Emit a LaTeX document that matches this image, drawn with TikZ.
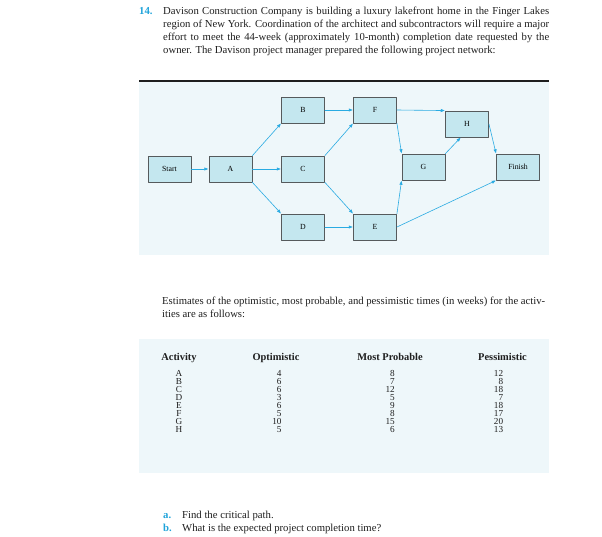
\documentclass[tikz,border=0pt]{standalone}
\usepackage{fontspec}
\setmainfont{Liberation Serif}
\usepackage{xcolor}
\usetikzlibrary{
    arrows.meta,
    positioning,
    calc,
    backgrounds
}
\definecolor{ink}      {HTML}{1E1E1E}
\definecolor{panelbg}  {HTML}{EEF7FA}
\definecolor{boxfill}  {HTML}{C4E7EF}
\definecolor{boxline}  {HTML}{555A5C}
\definecolor{flowblue} {HTML}{2AABE2}
\definecolor{numblue}  {HTML}{1FA3DA}

\begin{document}
\begin{tikzpicture}[
    x=1pt, y=-1pt,
    line cap=round, line join=round,
    >={Triangle[length=4pt, width=3pt]},
    %% --- semantic styles ---
    actbox/.style     = {rectangle, draw=boxline, fill=boxfill, line width=0.9pt,
                         minimum width=43pt, minimum height=26pt, inner sep=0pt,
                         font=\fontsize{7.8}{8}\selectfont},
    flow/.style       = {->, draw=flowblue, line width=0.6pt, shorten >=0.3pt},
    bodytext/.style   = {inner sep=0pt, align=left, text=ink,
                         font=\fontsize{10.7}{12.8}\selectfont},
    itemlabel/.style  = {inner sep=0pt, text=numblue,
                         font=\fontsize{10.7}{12.8}\selectfont\bfseries},
    headcell/.style   = {inner sep=0pt, anchor=base, text=ink,
                         font=\fontsize{10.4}{10}\selectfont\bfseries},
    cell/.style       = {inner sep=0pt, text=ink,
                         font=\fontsize{9.2}{8}\selectfont}
]
\useasboundingbox (0,0) rectangle (602,536);

%% =====================================================
%% Problem statement
%% =====================================================
\node[itemlabel, anchor=base west] (NUM) at (139,14.5) {14.};
\node[bodytext, anchor=north west] (INTRO) at (163,7) {%
    \makebox[386pt][s]{Davison Construction Company is building a luxury lakefront home in the Finger Lakes}\\
    \makebox[386pt][s]{region of New York. Coordination of the architect and subcontractors will require a major}\\
    \makebox[386pt][s]{effort to meet the 44-week (approximately 10-month) completion date requested by the}\\
    owner. The Davison project manager prepared the following project network:};

%% =====================================================
%% Project network
%% =====================================================
\fill[panelbg] (139,82) rectangle (549,255);
\draw[ink, line width=2.6pt, line cap=butt] (139,81) -- (549,81);

\node[actbox] (START)  at (169.5,169) {Start};
\node[actbox] (A)      at (230.5,169) {A};
\node[actbox] (B)      at (303,110)   {B};
\node[actbox] (C)      at (303,169)   {C};
\node[actbox] (D)      at (303,227)   {D};
\node[actbox] (F)      at (375,110)   {F};
\node[actbox] (E)      at (375,227)   {E};
\node[actbox] (G)      at (423.5,167) {G};
\node[actbox] (H)      at (467,124)   {H};
\node[actbox] (FINISH) at (518,167)   {Finish};

\draw[flow] (START.east) -- (A.west);
\draw[flow] (A.north east) -- (B.south west);
\draw[flow] (A.east) -- (C.west);
\draw[flow] (A.south east) -- (D.north west);
\draw[flow] (B.east) -- (F.west);
\draw[flow] (C.north east) -- (F.south west);
\draw[flow] (C.south east) -- (E.north west);
\draw[flow] (D.east) -- (E.west);
\draw[flow] (F.east) -- (H.north west);
\draw[flow] (F.south east) -- (G.north west);
\draw[flow] (E.north east) -- (G.south west);
\draw[flow] (G.north east) -- (H.-115);
\draw[flow] (H.east) -- (FINISH.north west);
\draw[flow] (E.east) -- (FINISH.south west);

%% =====================================================
%% Time estimates
%% =====================================================
\node[bodytext, anchor=north west] (EST) at (162,296.8) {%
    Estimates of the optimistic, most probable, and pessimistic times (in weeks) for the activ-\\
    ities are as follows:};

\fill[panelbg] (139,339) rectangle (549,473);

\node[headcell] (HACT) at (179,360.5) {Activity};
\node[headcell] (HOPT) at (276,360.5) {Optimistic};
\node[headcell] (HMP)  at (390,360.5) {Most Probable};
\node[headcell] (HPES) at (502.5,360.5) {Pessimistic};

\foreach \act/\opt/\mp/\pes [count=\i] in
    {A/4/8/12, B/6/7/8, C/6/12/18, D/3/5/7, E/6/9/18, F/5/8/17, G/10/15/20, H/5/6/13}
{
    \pgfmathsetmacro\yy{368.5+8*\i}
    \node[cell, anchor=base]      (act-\i) at (179,\yy)   {\act};
    \node[cell, anchor=base east] (opt-\i) at (281.7,\yy) {\opt};
    \node[cell, anchor=base east] (mp-\i)  at (395,\yy)   {\mp};
    \node[cell, anchor=base east] (pes-\i) at (503.3,\yy) {\pes};
}

%% =====================================================
%% Questions
%% =====================================================
\node[itemlabel, anchor=base west] (QA) at (163,518.5) {a.};
\node[bodytext, anchor=base west]  (TA) at (182,518.5) {Find the critical path.};
\node[itemlabel, anchor=base west] (QB) at (163,531.5) {b.};
\node[bodytext, anchor=base west]  (TB) at (182,531.5) {What is the expected project completion time?};

\end{tikzpicture}
\end{document}
